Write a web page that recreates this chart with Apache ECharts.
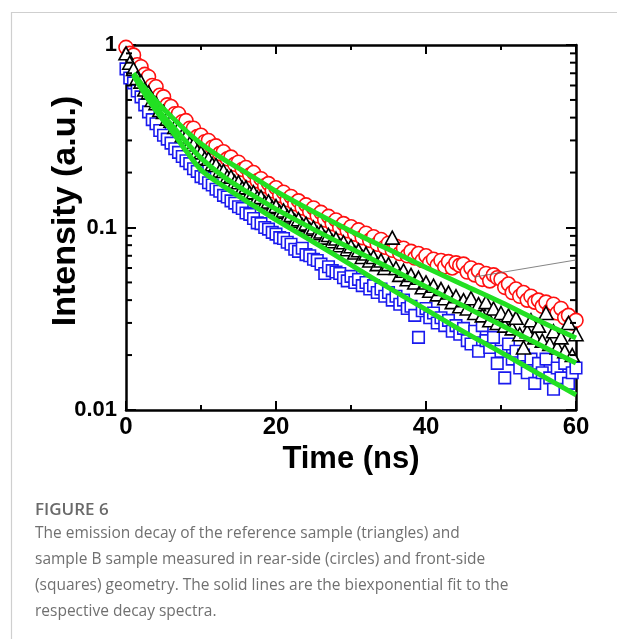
<!DOCTYPE html>
<html><head><meta charset="utf-8">
<script src="https://cdn.jsdelivr.net/npm/echarts@6/dist/echarts.min.js"></script>
<style>html,body{margin:0;padding:0;background:#fff}#c{width:617px;height:639px}</style>
</head><body><div id="c"></div>
<script>
// Time axis (ns) shared by all three measured decays
const time = [
 0,0.5,1,1.5,2,2.5,3,3.5,4,4.5,
 5,5.5,6,6.5,7,7.5,8,8.5,9,9.5,
 10,10.5,11,11.5,12,12.5,13,13.5,14,14.5,
 15,15.5,16,16.5,17,17.5,18,18.5,19,19.5,
 20,20.5,21,21.5,22,22.5,23,23.5,24,24.5,
 25,25.5,26,26.5,27,27.5,28,28.5,29,29.5,
 30,30.5,31,31.5,32,32.5,33,33.5,34,34.5,
 35,35.5,36,36.5,37,37.5,38,38.5,39,39.5,
 40,40.5,41,41.5,42,42.5,43,43.5,44,44.5,
 45,45.5,46,46.5,47,47.5,48,48.5,49,49.5,
 50,50.5,51,51.5,52,52.5,53,53.5,54,54.5,
 55,55.5,56,56.5,57,57.5,58,58.5,59,59.5,
 60];
// Sample B rear-side (circles)
const circles = [
 0.97,0.90,0.88,0.78,0.76,0.69,0.67,0.60,0.59,0.53,
 0.52,0.47,0.46,0.42,0.42,0.38,0.385,0.35,0.35,0.315,
 0.32,0.295,0.30,0.275,0.28,0.254,0.26,0.238,0.243,0.222,
 0.228,0.208,0.213,0.194,0.2,0.18,0.185,0.169,0.174,0.159,
 0.165,0.15,0.156,0.142,0.148,0.135,0.14,0.128,0.133,0.122,
 0.128,0.116,0.121,0.11,0.115,0.105,0.11,0.1,0.105,0.096,
 0.101,0.092,0.097,0.088,0.093,0.085,0.089,0.081,0.086,0.078,
 0.082,0.075,0.079,0.072,0.077,0.07,0.074,0.068,0.072,0.066,
 0.07,0.064,0.067,0.062,0.066,0.061,0.065,0.06,0.064,0.062,
 0.063,0.057,0.06,0.055,0.058,0.052,0.056,0.051,0.055,0.053,
 0.052,0.047,0.049,0.044,0.046,0.042,0.044,0.04,0.042,0.039,
 0.04,0.037,0.039,0.035,0.038,0.034,0.036,0.032,0.033,0.030,
 0.031];
// Reference sample (triangles)
const triangles = [
 0.90,0.80,0.74,0.66,0.63,0.57,0.55,0.50,0.48,0.44,
 0.43,0.395,0.385,0.355,0.35,0.32,0.315,0.29,0.285,0.262,
 0.258,0.24,0.238,0.222,0.22,0.205,0.204,0.19,0.19,0.178,
 0.177,0.165,0.166,0.155,0.156,0.146,0.147,0.137,0.139,0.129,
 0.131,0.122,0.124,0.115,0.117,0.109,0.111,0.103,0.105,0.098,
 0.100,0.093,0.095,0.088,0.091,0.084,0.087,0.080,0.083,0.076,
 0.079,0.073,0.075,0.069,0.072,0.066,0.069,0.063,0.066,0.060,
 0.063,0.088,0.060,0.055,0.058,0.052,0.055,0.050,0.053,0.047,
 0.050,0.045,0.048,0.043,0.046,0.041,0.044,0.039,0.042,0.037,
 0.040,0.036,0.041,0.034,0.038,0.033,0.039,0.031,0.036,0.030,
 0.034,0.029,0.033,0.028,0.032,0.026,0.022,0.027,0.031,0.025,
 0.029,0.024,0.034,0.023,0.027,0.022,0.025,0.021,0.030,0.020,
 0.026];
// Sample B front-side (squares)
const squares = [
 0.74,0.66,0.62,0.56,0.52,0.47,0.43,0.39,0.37,0.34,
 0.32,0.305,0.29,0.27,0.258,0.245,0.232,0.224,0.21,0.203,
 0.19,0.186,0.176,0.171,0.162,0.158,0.15,0.147,0.14,0.136,
 0.13,0.127,0.12,0.118,0.112,0.106,0.105,0.100,0.098,0.094,
 0.092,0.088,0.087,0.083,0.081,0.076,0.074,0.077,0.071,0.070,
 0.067,0.066,0.063,0.056,0.061,0.058,0.057,0.056,0.053,0.051,
 0.054,0.050,0.052,0.048,0.050,0.046,0.048,0.044,0.046,0.042,
 0.044,0.040,0.042,0.038,0.040,0.036,0.037,0.033,0.025,0.035,
 0.036,0.032,0.034,0.030,0.032,0.029,0.031,0.027,0.029,0.026,
 0.028,0.024,0.023,0.027,0.021,0.029,0.024,0.022,0.025,0.018,
 0.021,0.015,0.023,0.019,0.021,0.017,0.020,0.016,0.019,0.014,
 0.018,0.016,0.019,0.015,0.013,0.017,0.015,0.018,0.014,0.016,
 0.017];
// Biexponential fits
const fitTime  = [1,2,3,4,5,6,8,10,13,16,20,25,30,35,40,45,50,55,60];
const fitRear  = [0.70,0.617,0.55,0.495,0.447,0.407,0.339,0.288,0.237,0.20,0.158,0.122,0.0955,0.0759,0.0603,0.0484,0.0389,0.0309,0.0248];
const fitRef   = [0.69,0.596,0.519,0.457,0.407,0.367,0.295,0.24,0.19,0.158,0.126,0.0977,0.0767,0.0603,0.0473,0.0372,0.0292,0.0229,0.0181];
const fitFront = [0.68,0.582,0.501,0.437,0.385,0.343,0.263,0.207,0.168,0.14,0.11,0.0832,0.0624,0.0468,0.0355,0.0269,0.0207,0.0158,0.0121];
// Stray thin guide line
const guideTime = [46.4, 60];
const guideValues = [0.0535, 0.0664];
// Axis settings
const xMin = 0, xMax = 60, xStep = 20;
const yMin = 0.01, yMax = 1;
const yMinorTicks = [0.02,0.03,0.04,0.05,0.06,0.07,0.08,0.09,0.2,0.3,0.4,0.5,0.6,0.7,0.8,0.9];
const captionTitle = 'FIGURE 6';
const captionLines = [
 'The emission decay of the reference sample (triangles) and',
 'sample B sample measured in rear-side (circles) and front-side',
 '(squares) geometry. The solid lines are the biexponential fit to the',
 'respective decay spectra.'
];

const zip = (xs, ys) => xs.map((x, i) => [x, ys[i]]);
const AX = '#000';
const labelFont = 'Liberation Sans';

function xAxisCfg(pos, showLabel) {
  return {
    type: 'value', position: pos, min: xMin, max: xMax, interval: xStep,
    axisLine: { show: true, onZero: false, lineStyle: { color: AX, width: 2.5 } },
    axisTick: { show: true, inside: true, length: 9, lineStyle: { color: AX, width: 2 } },
    minorTick: { show: true, splitNumber: 2, length: 5, lineStyle: { color: AX, width: 2 } },
    splitLine: { show: false },
    axisLabel: { show: showLabel, color: AX, fontSize: 24, fontWeight: 'bold', fontFamily: labelFont, margin: 5 },
    name: showLabel ? 'Time (ns)' : '', nameLocation: 'middle', nameGap: 28,
    nameTextStyle: { color: AX, fontSize: 31, fontWeight: 'bold', fontFamily: labelFont }
  };
}
function yAxisCfg(pos, showLabel) {
  return {
    type: 'log', logBase: 10, position: pos, min: yMin, max: yMax,
    axisLine: { show: true, onZero: false, lineStyle: { color: AX, width: 2.5 } },
    axisTick: { show: true, inside: true, length: 10, lineStyle: { color: AX, width: 2 } },
    minorTick: { show: false },
    splitLine: { show: false },
    axisLabel: { show: showLabel, color: AX, fontSize: 22, fontWeight: 'bold', fontFamily: labelFont, margin: 9,
      formatter: v => (v >= 1 ? '1' : String(v)) }
  };
}

const chart = echarts.init(document.getElementById('c'), null, { renderer: 'canvas' });
chart.setOption({
  animation: false,
  backgroundColor: '#fff',
  grid: { left: 126, right: 41, top: 45, bottom: 229, containLabel: false },
  xAxis: [xAxisCfg('bottom', true), xAxisCfg('top', false)],
  yAxis: [yAxisCfg('left', true), yAxisCfg('right', false)],
  series: [
    { type: 'custom', name: 'yMinorTicks', data: yMinorTicks.map(v => [xMin, v]), clip: false, silent: true, z: 10,
      renderItem: (params, api) => {
        const v = api.value(1);
        const pL = api.coord([xMin, v]);
        const pR = api.coord([xMax, v]);
        return { type: 'group', children: [
          { type: 'line', shape: { x1: pL[0], y1: pL[1], x2: pL[0] + 6, y2: pL[1] }, style: { stroke: AX, lineWidth: 2 } },
          { type: 'line', shape: { x1: pR[0], y1: pR[1], x2: pR[0] - 6, y2: pR[1] }, style: { stroke: AX, lineWidth: 2 } }
        ] };
      } },
    { type: 'scatter', name: 'rear', data: zip(time, circles), symbol: 'circle', symbolSize: 14, z: 2,
      itemStyle: { color: '#fff', borderColor: '#ff1010', borderWidth: 1.6, opacity: 1 } },
    { type: 'scatter', name: 'front', data: zip(time, squares), symbol: 'rect', symbolSize: 11.5, z: 3,
      itemStyle: { color: '#fff', borderColor: '#1a1aee', borderWidth: 1.6, opacity: 1 } },
    { type: 'scatter', name: 'ref', data: zip(time, triangles), symbol: 'triangle', symbolSize: [14, 13], z: 4,
      itemStyle: { color: '#fff', borderColor: '#000', borderWidth: 1.6, opacity: 1 } },
    { type: 'line', data: zip(fitTime, fitRear), showSymbol: false, smooth: 0.3, z: 5,
      lineStyle: { color: '#22e022', width: 5 } },
    { type: 'line', data: zip(fitTime, fitRef), showSymbol: false, smooth: 0.3, z: 5,
      lineStyle: { color: '#22e022', width: 5 } },
    { type: 'line', data: zip(fitTime, fitFront), showSymbol: false, smooth: 0.3, z: 5,
      lineStyle: { color: '#22e022', width: 5 } },
    { type: 'line', data: zip(guideTime, guideValues), showSymbol: false, z: 6,
      lineStyle: { color: '#666', width: 0.8 } }
  ],
  graphic: [
    { type: 'rect', left: 9, top: 10, z: -10, silent: true,
      shape: { x: 0, y: 0, width: 700, height: 700 },
      style: { fill: 'none', stroke: '#cfcfcf', lineWidth: 1.2 } },
    { type: 'text', x: 66, y: 211, rotation: Math.PI / 2,
      style: { text: 'Intensity (a.u.)', font: 'bold 34px "Liberation Sans"', fill: '#000',
        align: 'center', verticalAlign: 'middle', textAlign: 'center', textVerticalAlign: 'middle' } },
    { type: 'text', left: 35, top: 502,
      style: { text: captionTitle, font: '600 17px "Open Sans"', fill: '#6a6a6a' } },
    ...captionLines.map((t, i) => ({ type: 'text', left: 35, top: 526 + i * 25.7,
      style: { text: t, font: '15.5px "Open Sans"', fill: '#707070' } }))
  ]
});
</script></body></html>
